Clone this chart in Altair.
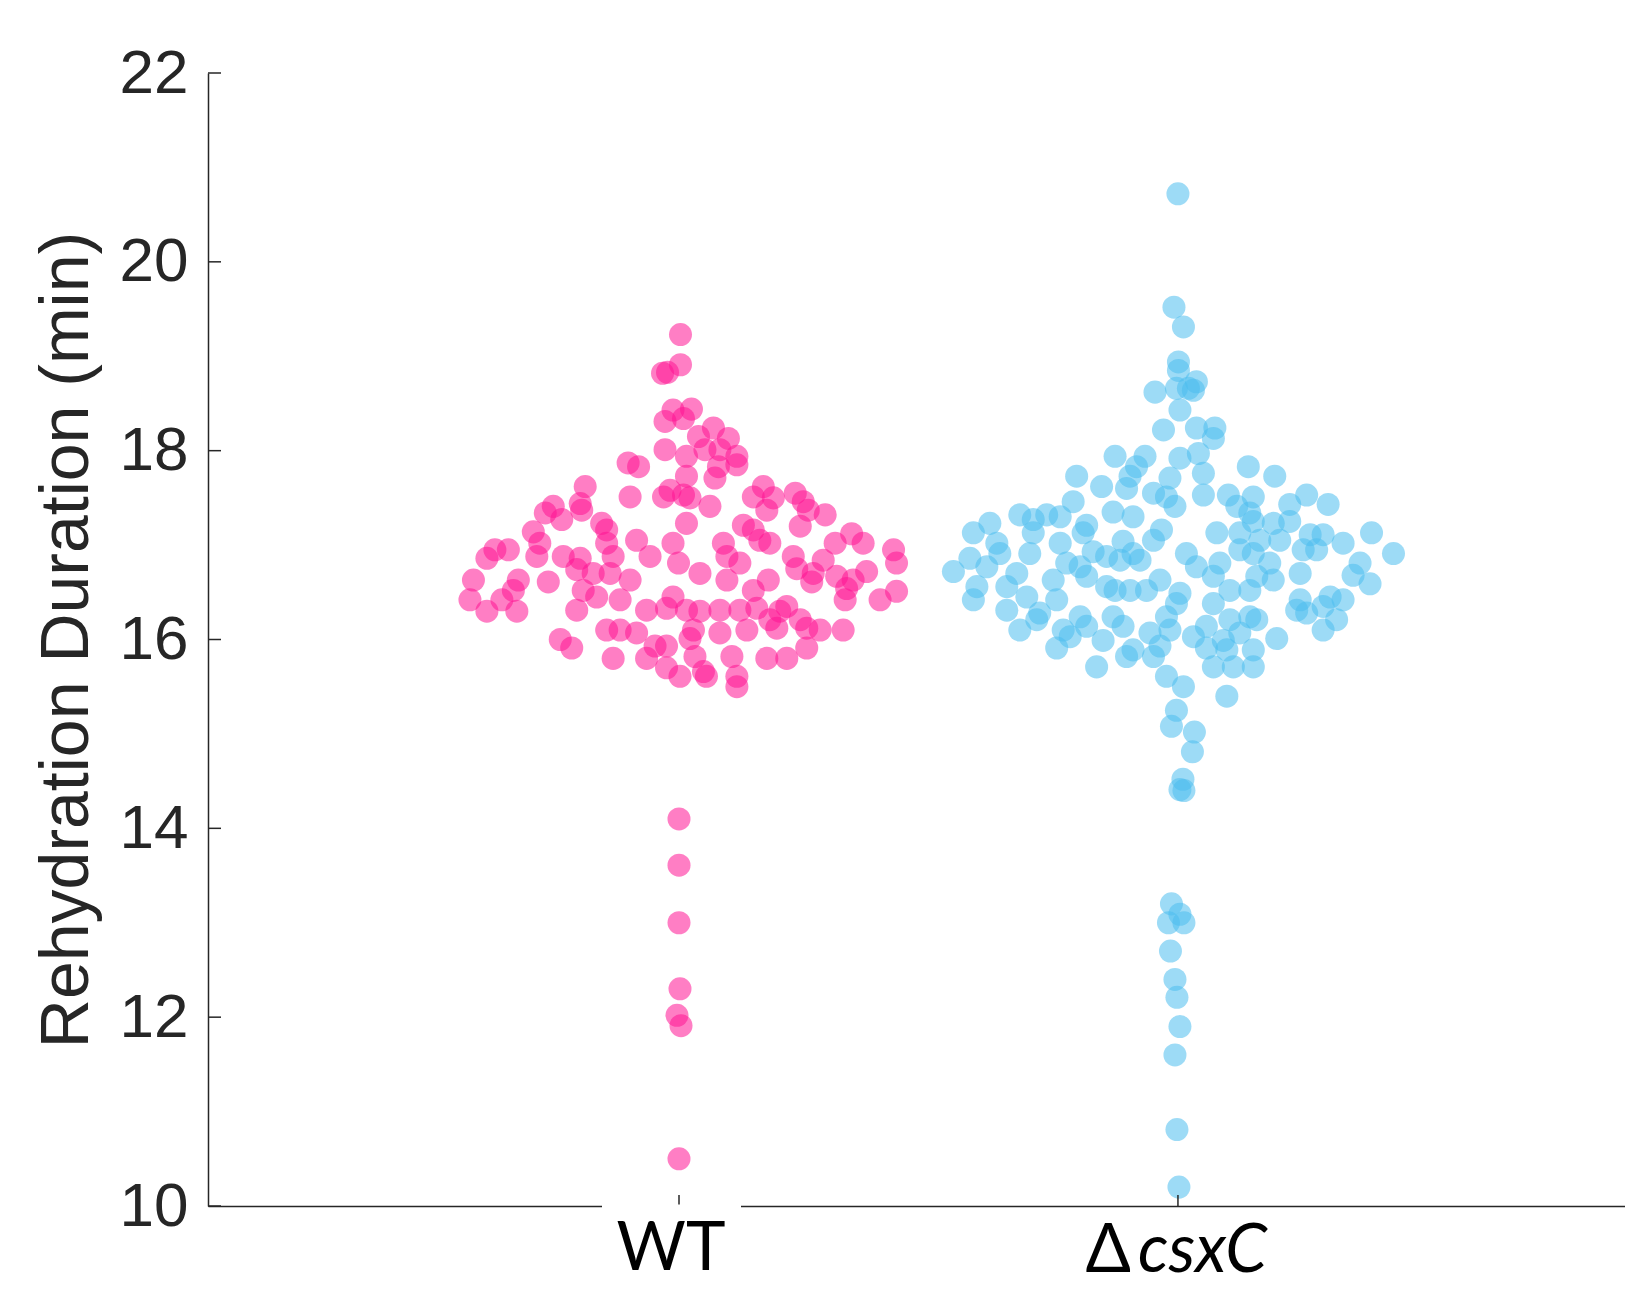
import altair as alt
import pandas as pd

# ---- data ----
groups = ["WT", "ΔcsxC"]
group_pos = [1, 2]
colors = ["#FF1493", "#4DBEEE"]

wt_offset = [
    0.003, 0.003, -0.033, -0.023, -0.012, 0.025, -0.028, 0.009, 0.069, 0.039,
    0.099, -0.028, 0.015, 0.052, 0.082, 0.116, -0.102, -0.081, 0.079, 0.116,
    0.015, 0.072, -0.188, 0.169, -0.018, 0.009, 0.149, 0.233, -0.098, -0.031,
    0.022, 0.189, 0.249, -0.252, -0.198, 0.062, 0.176, 0.293, 0.259, -0.268,
    -0.235, -0.195, -0.155, 0.015, 0.129, 0.243, -0.292, -0.145, 0.149, -0.085,
    -0.012, 0.346, 0.313, 0.369, 0.182, 0.089, -0.369, -0.342, -0.279, -0.145,
    0.162, 0.430, -0.385, -0.285, -0.232, -0.198, -0.132, -0.058, -0.001, 0.096,
    0.122, 0.229, 0.289, 0.436, -0.205, -0.172, -0.138, 0.042, 0.236, 0.269,
    0.376, 0.316, -0.412, -0.322, -0.262, -0.098, 0.096, 0.179, 0.266, 0.349,
    -0.332, -0.192, 0.149, 0.436, 0.336, -0.419, -0.355, -0.165, -0.118, -0.012,
    0.403, 0.333, -0.385, -0.325, -0.205, -0.065, -0.025, 0.015, 0.042, 0.082,
    0.122, 0.156, 0.216, 0.202, 0.182, 0.243, -0.145, -0.118, -0.085, 0.029,
    0.082, 0.136, 0.196, 0.283, 0.329, 0.256, -0.238, -0.025, 0.022, -0.215,
    -0.048, 0.256, -0.132, -0.065, 0.032, 0.106, 0.176, 0.216, -0.025, 0.049,
    0.002, 0.055, 0.116, 0.116,
    0.0, 0.0, 0.0, 0.002, -0.004, 0.004, 0.0,
]
wt_value = [
    19.23, 18.91, 18.82, 18.83, 18.43, 18.44, 18.31, 18.34, 18.24, 18.15,
    18.13, 18.01, 17.94, 18.01, 18.01, 17.94, 17.87, 17.83, 17.83, 17.85,
    17.73, 17.71, 17.62, 17.62, 17.58, 17.53, 17.51, 17.55, 17.51, 17.51,
    17.50, 17.50, 17.46, 17.41, 17.44, 17.41, 17.37, 17.32, 17.37, 17.34,
    17.27, 17.37, 17.23, 17.23, 17.21, 17.20, 17.14, 17.16, 17.16, 17.05,
    17.02, 17.12, 17.02, 17.02, 17.02, 17.02, 16.95, 16.95, 17.02, 17.02,
    17.05, 16.95, 16.86, 16.88, 16.88, 16.86, 16.88, 16.88, 16.81, 16.88,
    16.81, 16.88, 16.84, 16.81, 16.74, 16.70, 16.70, 16.70, 16.75, 16.70,
    16.72, 16.67, 16.63, 16.63, 16.61, 16.63, 16.63, 16.63, 16.61, 16.63,
    16.52, 16.52, 16.52, 16.51, 16.54, 16.42, 16.42, 16.45, 16.42, 16.45,
    16.42, 16.42, 16.30, 16.30, 16.31, 16.31, 16.33, 16.31, 16.30, 16.31,
    16.31, 16.33, 16.35, 16.30, 16.21, 16.21, 16.10, 16.10, 16.07, 16.10,
    16.07, 16.10, 16.12, 16.10, 16.10, 16.12, 16.00, 15.93, 16.01, 15.91,
    15.93, 15.91, 15.80, 15.80, 15.82, 15.82, 15.80, 15.80, 15.70, 15.66,
    15.61, 15.61, 15.61, 15.50,
    14.10, 13.61, 13.00, 12.30, 12.02, 11.91, 10.50,
]

dcsx_offset = [
    0.0, -0.008,
    0.011, 0.001, 0.001, 0.037, -0.003, 0.021, -0.046, 0.031, 0.004, -0.029,
    0.037, 0.074, 0.071, -0.126, -0.066, -0.083, 0.004, 0.041, -0.203, -0.096,
    0.141, 0.194, 0.051, -0.153, -0.103, -0.016, 0.051, -0.023, -0.049, 0.101,
    0.151, 0.258, 0.301, 0.224, -0.006, 0.118, -0.130, -0.210, -0.317, -0.290,
    -0.263, -0.236, -0.090, -0.183, 0.144, -0.377, 0.151, 0.191, 0.224, -0.410,
    -0.290, -0.190, -0.033, 0.078, 0.124, 0.265, 0.291, 0.388, -0.363, -0.236,
    -0.110, -0.049, 0.164, 0.204, 0.331, -0.417, -0.357, -0.297, -0.170, -0.143,
    -0.090, 0.017, 0.124, 0.151, 0.251, 0.278, 0.432, -0.450, -0.383, -0.223,
    -0.196, -0.116, -0.076, 0.037, 0.084, 0.184, 0.365, -0.323, -0.183, 0.071,
    0.158, 0.245, 0.351, -0.403, -0.343, -0.250, -0.143, -0.036, 0.191, -0.410,
    -0.303, -0.126, -0.096, -0.063, 0.004, 0.104, 0.144, 0.385, 0.305, -0.343,
    -0.277, -0.243, -0.003, 0.071, 0.245, 0.331, 0.291, -0.283, -0.196, -0.130,
    0.238, 0.258, 0.318, 0.104, 0.144, -0.023, -0.317, -0.230, -0.183, -0.110,
    0.057, 0.291, 0.158, -0.216, -0.150, -0.056, -0.016, 0.031, 0.091, 0.124,
    0.198, -0.243, -0.090, -0.036, 0.057, 0.151, 0.098, -0.163, -0.103, -0.049,
    0.071, 0.111, 0.151, -0.023, 0.011, 0.098, -0.003,
    -0.013, 0.033, 0.029, 0.010, 0.004, 0.012, -0.013, 0.004, -0.019, 0.012,
    -0.015, -0.006, -0.002, 0.004, -0.006, -0.002, 0.002,
]
dcsx_value = [
    20.72, 19.52,
    19.31, 18.94, 18.85, 18.73, 18.66, 18.66, 18.62, 18.64, 18.43, 18.22,
    18.24, 18.24, 18.13, 17.94, 17.94, 17.83, 17.92, 17.97, 17.73, 17.73,
    17.83, 17.73, 17.76, 17.62, 17.60, 17.71, 17.53, 17.51, 17.55, 17.53,
    17.51, 17.53, 17.43, 17.43, 17.41, 17.41, 17.35, 17.46, 17.32, 17.27,
    17.32, 17.30, 17.30, 17.21, 17.34, 17.23, 17.25, 17.23, 17.25, 17.13,
    17.13, 17.13, 17.16, 17.13, 17.13, 17.11, 17.11, 17.13, 17.02, 17.02,
    17.04, 17.05, 17.05, 17.05, 17.02, 16.86, 16.91, 16.91, 16.93, 16.88,
    16.91, 16.91, 16.95, 16.91, 16.95, 16.95, 16.91, 16.72, 16.77, 16.81,
    16.77, 16.84, 16.84, 16.77, 16.81, 16.81, 16.81, 16.70, 16.67, 16.67,
    16.67, 16.70, 16.68, 16.56, 16.56, 16.63, 16.56, 16.63, 16.63, 16.42,
    16.45, 16.52, 16.52, 16.52, 16.49, 16.52, 16.52, 16.59, 16.45, 16.31,
    16.28, 16.42, 16.38, 16.38, 16.42, 16.42, 16.35, 16.21, 16.24, 16.24,
    16.31, 16.28, 16.21, 16.21, 16.24, 16.24, 16.10, 16.10, 16.14, 16.14,
    16.14, 16.10, 16.21, 16.03, 15.99, 16.07, 16.10, 16.03, 15.99, 16.07,
    16.01, 15.91, 15.89, 15.93, 15.91, 15.89, 15.89, 15.71, 15.82, 15.82,
    15.71, 15.71, 15.71, 15.61, 15.50, 15.40, 15.25,
    15.08, 15.02, 14.81, 14.52, 14.41, 14.40, 13.20, 13.09, 13.00, 13.00,
    12.70, 12.40, 12.21, 11.90, 11.60, 10.81, 10.20,
]

y_ticks = [10, 12, 14, 16, 18, 20, 22]
y_title = "Rehydration Duration (min)"

# ---- tables ----
rows = []
for off, val in zip(wt_offset, wt_value):
    rows.append({"x": group_pos[0] + off, "y": val, "g": groups[0]})
for off, val in zip(dcsx_offset, dcsx_value):
    rows.append({"x": group_pos[1] + off, "y": val, "g": groups[1]})
pts = pd.DataFrame(rows)

W, H = 1417, 1133
ink = "#262626"

xscale = alt.Scale(domain=[0.056, 2.896], nice=False, zero=False)
yscale = alt.Scale(domain=[10, 22], nice=False, zero=False)
xaxis = alt.Axis(values=group_pos, labels=False, ticks=False, tickSize=0, grid=False,
                 domainColor=ink, domainWidth=1.5, title="")
yaxis = alt.Axis(values=y_ticks, ticks=False, tickSize=0, grid=False,
                 labelFont="Liberation Sans", labelFontSize=62, labelColor=ink,
                 labelPadding=20, domainColor=ink, domainWidth=1.5,
                 title=y_title, titleFont="Liberation Sans", titleFontSize=68,
                 titleFontWeight="normal", titleColor=ink, titleAngle=270,
                 titleX=-121, titleY=H / 2, titleAlign="center",
                 titleBaseline="alphabetic")

X = lambda f="x": alt.X(f"{f}:Q", scale=xscale, axis=xaxis)
Y = lambda f="y": alt.Y(f"{f}:Q", scale=yscale, axis=yaxis)

points = alt.Chart(pts).mark_circle(size=530, opacity=0.55).encode(
    x=X(), y=Y(),
    color=alt.Color("g:N", scale=alt.Scale(domain=groups, range=colors), legend=None),
)

yt = alt.Chart(pd.DataFrame({"y": y_ticks})).mark_rule(color=ink, strokeWidth=1.5).encode(
    y=Y(), x=alt.value(0), x2=alt.value(13)
)
xt = alt.Chart(pd.DataFrame({"x": group_pos})).mark_rule(color=ink, strokeWidth=1.5).encode(
    x=X(), y=alt.value(H - 11), y2=alt.value(H)
)

# white patch behind the WT label that interrupts the axis line in the reference
patch = alt.Chart(pd.DataFrame({"x": [group_pos[0]]})).mark_rect(color="white").encode(
    x=alt.value(394), x2=alt.value(533), y=alt.value(H - 1.5), y2=alt.value(H + 12)
)

lab_df = pd.DataFrame({"x": [group_pos[0]], "t": ["WT"]})
wt_lab = alt.Chart(lab_df).mark_text(
    font="Lato, Open Sans, sans-serif", fontSize=67, color="black",
    align="center", baseline="alphabetic", dx=-8
).encode(x=X(), y=alt.value(H + 64), text="t:N")

d_df = pd.DataFrame({"x": [group_pos[1]], "t": ["Δ"]})
d_lab = alt.Chart(d_df).mark_text(
    font="Lato, Open Sans, DejaVu Sans, sans-serif", fontSize=67, color="black",
    align="right", baseline="alphabetic", dx=-47
).encode(x=X(), y=alt.value(H + 66), text="t:N")

g_df = pd.DataFrame({"x": [group_pos[1]], "t": ["csxC"]})
g_lab = alt.Chart(g_df).mark_text(
    font="Lato, Open Sans, sans-serif", fontSize=67, color="black", fontStyle="italic",
    align="left", baseline="alphabetic", dx=-40
).encode(x=X(), y=alt.value(H + 66), text="t:N")

chart = alt.layer(points, yt, xt, patch, wt_lab, d_lab, g_lab).properties(
    width=W, height=H,
    autosize=alt.AutoSizeParams(type="none"),
    padding={"left": 200, "top": 65, "right": 0, "bottom": 83},
    background="white",
).configure_view(stroke=None)

chart.save("out.html", embed_options={"renderer": "svg", "actions": False})
